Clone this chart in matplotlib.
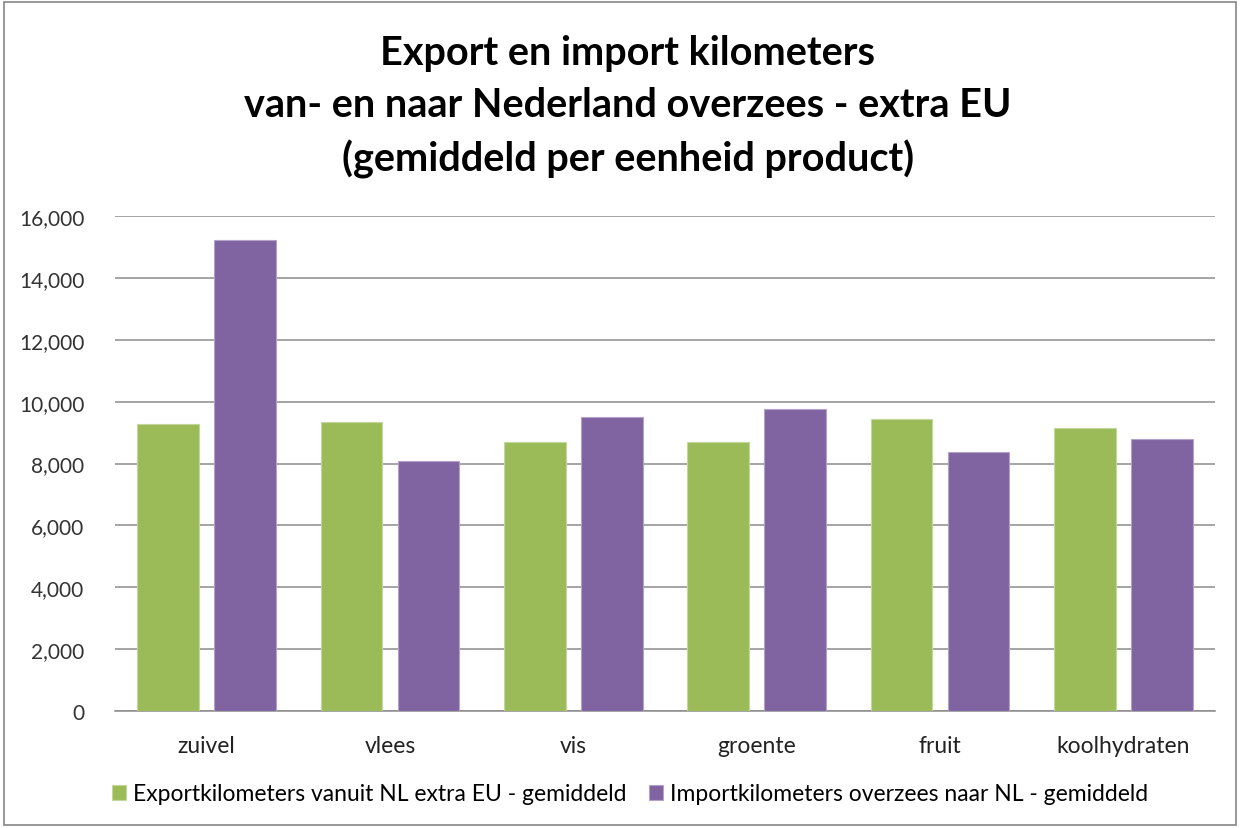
import numpy as np
import matplotlib.pyplot as plt
from matplotlib.patches import Rectangle

categories = ['zuivel', 'vlees', 'vis', 'groente', 'fruit', 'koolhydraten']
export_km = [9270, 9350, 8700, 8700, 9430, 9160]
import_km = [15230, 8080, 9510, 9770, 8370, 8780]
labels = ['Exportkilometers vanuit NL extra EU - gemiddeld',
          'Importkilometers overzees naar NL - gemiddeld']

plt.rcParams['font.family'] = ['Lato', 'DejaVu Sans']

fig = plt.figure(figsize=(12.41, 8.29), dpi=100)
fig.patches.append(Rectangle((0.003, 0.004), 0.993, 0.992, transform=fig.transFigure,
                             fill=False, edgecolor='#868686', linewidth=1.2))
ax = fig.add_axes([115/1241, 1 - 712/829, 1100/1241, 495/829])

x = np.arange(len(categories))
w = 0.338
off = 0.21
ax.bar(x - off, export_km, w, color='#9BBB59', edgecolor='#C4D79B', linewidth=0.8,
       label=labels[0], zorder=3)
ax.bar(x + off, import_km, w, color='#8064A2', edgecolor='#B3A2C7', linewidth=0.8,
       label=labels[1], zorder=3)

ax.set_xlim(-0.5, len(categories) - 0.5)
ax.set_ylim(0, 16000)
ax.set_yticks(np.arange(0, 16001, 2000))
ax.set_yticklabels([f'{v:,}' for v in range(0, 16001, 2000)], fontsize=15, color='#333333')
ax.set_xticks(x)
ax.set_xticklabels(categories, fontsize=16.5, color='#222222')
ax.tick_params(axis='y', length=0, pad=22)
ax.tick_params(axis='x', length=0, pad=17)
ax.grid(axis='y', color='#8C8C8C', linewidth=1.1, zorder=0)
for s in ['left', 'right', 'top']:
    ax.spines[s].set_visible(False)
ax.spines['bottom'].set_color('#8C8C8C')
ax.spines['bottom'].set_linewidth(1.1)

fig.text(628/1241, 1 - 107/829, 'Export en import kilometers\nvan- en naar Nederland overzees - extra EU\n(gemiddeld per eenheid product)',
         ha='center', va='center', fontsize=28.5, fontweight='bold', linespacing=1.5, color='#000000')

fig.legend(loc='center', bbox_to_anchor=(630/1241, 1 - 795/829), ncol=2, frameon=False,
           fontsize=16.5, handlelength=0.6, handleheight=0.6, handletextpad=0.3,
           columnspacing=1.0)

fig.savefig('out.png', dpi=100)
